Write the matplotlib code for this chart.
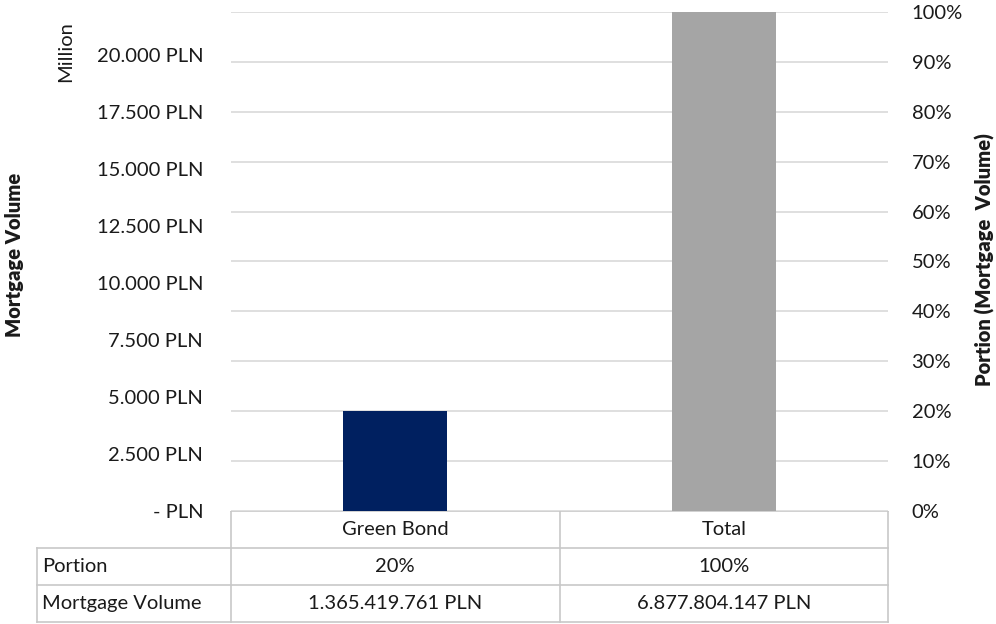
import matplotlib
matplotlib.use("Agg")
import matplotlib.pyplot as plt
from matplotlib.ticker import FuncFormatter, MultipleLocator

plt.rcParams['font.family'] = ['Lato', 'DejaVu Sans']

# data
categories = ['Green Bond', 'Total']
portion = [0.20, 1.00]
volume = [1365419761, 6877804147]
row_labels = ['Portion', 'Mortgage Volume']
bar_colors = ['#002060', '#a5a5a5']

W, H = 996, 624
fig = plt.figure(figsize=(W / 100, H / 100), dpi=100)

# plot area in pixels
px_l, px_r, px_t, px_b = 231, 888, 12, 511


def frac(x0, y0, x1, y1):
    return [x0 / W, 1 - y1 / H, (x1 - x0) / W, (y1 - y0) / H]


ax = fig.add_axes(frac(px_l, px_t, px_r, px_b))
ax2 = ax.twinx()

def pln(v, pos=None):
    if v == 0:
        return '- PLN'
    return f'{int(v):,}'.replace(',', '.') + ' PLN'

def pct(v, pos=None):
    return f'{v * 100:.0f}%'

fs = 14.5
txt = '#1a1a1a'

# left axis: mortgage volume in million PLN
ax.set_ylim(0, 21900)
ax.yaxis.set_major_locator(MultipleLocator(2500))
ax.yaxis.set_major_formatter(FuncFormatter(pln))
ax.set_xlim(-0.5, len(categories) - 0.5)
ax.set_xticks([])
ax.tick_params(axis='y', length=0, pad=20, labelsize=fs, colors=txt)

# right axis: portion, bars drawn here
ax2.set_ylim(0, 1)
ax2.yaxis.set_major_locator(MultipleLocator(0.1))
ax2.yaxis.set_major_formatter(FuncFormatter(pct))
ax2.tick_params(axis='y', length=0, pad=17, labelsize=fs, colors=txt)
ax2.grid(axis='y', color='#d9d9d9', linewidth=1.2)
ax2.set_axisbelow(True)
x = range(len(categories))
ax2.bar(x, portion, width=0.317, color=bar_colors, zorder=3)

for a in (ax, ax2):
    for s in a.spines.values():
        s.set_visible(False)

fig.text(15 / W, 1 - 255 / H, 'Mortgage Volume', rotation=90, ha='center',
         va='center', fontsize=fs, fontweight='heavy', color=txt)
fig.text(985 / W, 1 - 260 / H, 'Portion (Mortgage  Volume)', rotation=90,
         ha='center', va='center', fontsize=fs, fontweight='heavy', color=txt)
fig.text(66 / W, 1 - 52 / H, 'Million', rotation=90, ha='center', va='center',
         fontsize=fs, color=txt)

# data table below the plot
tab = fig.add_axes(frac(0, px_b, W, H), frame_on=False)
tab.set_xlim(0, W)
tab.set_ylim(H, px_b)
tab.axis('off')
lc = '#c8c8c8'
row_h = 37
col_w = (px_r - px_l) / len(categories)
left = 37
y_lines = [px_b + i * row_h for i in range(4)]

tab.plot([px_l, px_r], [y_lines[0]] * 2, color=lc, lw=1.2)
for y in y_lines[1:]:
    tab.plot([left, px_r], [y, y], color=lc, lw=1.2)
for i in range(len(categories) + 1):
    xx = px_l + i * col_w
    tab.plot([xx, xx], [y_lines[0], y_lines[3]], color=lc, lw=1.2)
tab.plot([left, left], [y_lines[1], y_lines[3]], color=lc, lw=1.2)

cells = [[pct(p) for p in portion], [pln(v) for v in volume]]
for i, c in enumerate(categories):
    cx = px_l + (i + 0.5) * col_w
    tab.text(cx, y_lines[0] + row_h / 2, c, ha='center', va='center',
             fontsize=fs, color=txt)
    for r in range(2):
        tab.text(cx, y_lines[r + 1] + row_h / 2, cells[r][i], ha='center',
                 va='center', fontsize=fs, color=txt)
for r, lab in enumerate(row_labels):
    tab.text(left + 5, y_lines[r + 1] + row_h / 2, lab, ha='left',
             va='center', fontsize=fs, color=txt)

fig.savefig('out.png', dpi=100)
